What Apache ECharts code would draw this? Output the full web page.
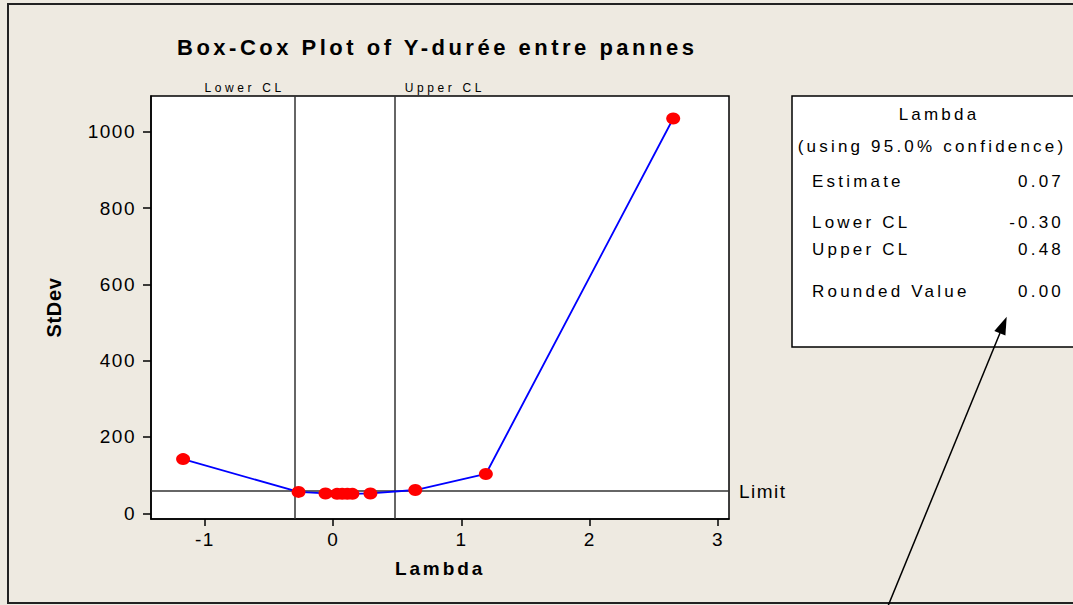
<!DOCTYPE html>
<html>
<head>
<meta charset="utf-8">
<title>Box-Cox Plot</title>
<script src="https://cdn.jsdelivr.net/npm/echarts@6/dist/echarts.min.js"></script>
<style>
  html, body { margin: 0; padding: 0; background: #eeeae1; }
  #main { width: 1073px; height: 605px; }
  /* Minitab-style spaced lettering, picked by font size */
  #main text { letter-spacing: 1.5px; }
  #main text[style*="22px"] { letter-spacing: 3.5px; }
  #main text[style*="19px"][style*="bold"] { letter-spacing: 2.9px; }
  #main text[style*="20px"][style*="bold"] { letter-spacing: 0.7px; }
  #main text[style*="17px"] { letter-spacing: 3.2px; }
  #main text[style*="12px"] { letter-spacing: 3.6px; }
</style>
</head>
<body>
<div id="main"></div>
<script type="text/javascript">
// lambda values and the standard deviation found at each one
var lambdaVals = [-1.17, -0.27, -0.06, 0.03, 0.07, 0.11, 0.15, 0.29, 0.64, 1.19, 2.65];
var stdevVals  = [142, 56, 52, 51, 51, 51, 51, 52, 61, 103, 1035];

var xTicks = [-1, 0, 1, 2, 3];
var yTicks = [0, 200, 400, 600, 800, 1000];

var lowerCL = -0.30;
var upperCL = 0.48;
var limitVal = 58;

// summary box
var boxRows = [
  ['Estimate', '0.07'],
  ['Lower CL', '-0.30'],
  ['Upper CL', '0.48'],
  ['Rounded Value', '0.00']
];

var font = '"Liberation Sans", Arial, sans-serif';
var myChart = echarts.init(document.getElementById('main'), null, {renderer: 'svg'});

var pts = lambdaVals.map(function (l, i) { return [l, stdevVals[i]]; });

var rowY = [181, 222, 249, 291];
var boxTexts = [];
boxRows.forEach(function (r, i) {
  boxTexts.push({type: 'text', x: 812, y: rowY[i], style: {text: r[0], font: '17px ' + font, fill: '#000', textVerticalAlign: 'middle'}});
  boxTexts.push({type: 'text', x: 1064, y: rowY[i], style: {text: r[1], font: '17px ' + font, fill: '#000', textAlign: 'right', textVerticalAlign: 'middle'}});
});

var option = {
  animation: false,
  backgroundColor: '#eeeae1',
  textStyle: {fontFamily: font},
  title: {
    text: 'Box-Cox Plot of Y-durée entre pannes',
    left: 172,
    top: 31,
    textStyle: {fontSize: 22, fontWeight: 'bold', color: '#000', fontFamily: font}
  },
  grid: {
    left: 151, top: 96, width: 578, height: 423,
    show: true, backgroundColor: '#fff', borderColor: '#000', borderWidth: 1.5
  },
  xAxis: {
    type: 'value', min: -1.42, max: 3.085,
    name: 'Lambda', nameLocation: 'middle', nameGap: 40,
    nameTextStyle: {fontSize: 19, fontWeight: 'bold', color: '#000'},
    axisLine: {show: true, onZero: false, lineStyle: {color: '#000', width: 1.5}},
    axisTick: {show: true, length: 7, customValues: xTicks, lineStyle: {color: '#000', width: 1.5}},
    axisLabel: {customValues: xTicks, fontSize: 19, color: '#000', margin: 11,
      formatter: function (v) { return String(v); }},
    splitLine: {show: false}
  },
  yAxis: {
    type: 'value', min: -15, max: 1094,
    name: 'StDev', nameLocation: 'middle', nameGap: 87,
    nameTextStyle: {fontSize: 20, fontWeight: 'bold', color: '#000'},
    axisLine: {show: true, onZero: false, lineStyle: {color: '#000', width: 1.5}},
    axisTick: {show: true, length: 8, customValues: yTicks, lineStyle: {color: '#000', width: 1.5}},
    axisLabel: {customValues: yTicks, fontSize: 19, color: '#000', margin: 15,
      formatter: function (v) { return String(v); }},
    splitLine: {show: false}
  },
  series: [{
    type: 'line',
    data: pts,
    symbol: 'circle',
    symbolSize: [14, 12],
    itemStyle: {color: '#ff0000'},
    lineStyle: {color: '#0000ff', width: 1.8},
    z: 5,
    markLine: {
      silent: true,
      symbol: 'none',
      lineStyle: {color: '#333', width: 1.5, type: 'solid'},
      label: {fontSize: 12, color: '#000', fontFamily: font},
      data: [
        {xAxis: lowerCL, label: {formatter: 'Lower CL', position: 'end', align: 'right', padding: [0, 10, 0, 0], distance: 2}},
        {xAxis: upperCL, label: {formatter: 'Upper CL', position: 'end', align: 'left', padding: [0, 0, 0, 10], distance: 2}},
        {yAxis: limitVal, label: {formatter: 'Limit', position: 'end', fontSize: 19, distance: 10}}
      ]
    }
  }],
  graphic: [
    // outer frame
    {type: 'polyline', shape: {points: [[1080, 4], [8, 4], [8, 603], [1080, 603]]}, style: {stroke: '#222', lineWidth: 2, fill: null}},
    // summary box
    {type: 'rect', shape: {x: 792, y: 96, width: 300, height: 251}, style: {fill: '#fff', stroke: '#000', lineWidth: 1.5}},
    {type: 'text', x: 939, y: 114, style: {text: 'Lambda', font: '17px ' + font, fill: '#000', textAlign: 'center', textVerticalAlign: 'middle'}},
    {type: 'text', x: 932, y: 146, style: {text: '(using 95.0% confidence)', font: '17px ' + font, fill: '#000', textAlign: 'center', textVerticalAlign: 'middle'}}
  ].concat(boxTexts).concat([
    // arrow pointing at the rounded value
    {type: 'line', shape: {x1: 888, y1: 606, x2: 1000, y2: 333}, style: {stroke: '#000', lineWidth: 1.5}},
    {type: 'polygon', shape: {points: [[1006.7, 316.7], [1005.4, 335.6], [994.3, 331.0]]}, style: {fill: '#000'}}
  ])
};

myChart.setOption(option);
</script>
</body>
</html>
